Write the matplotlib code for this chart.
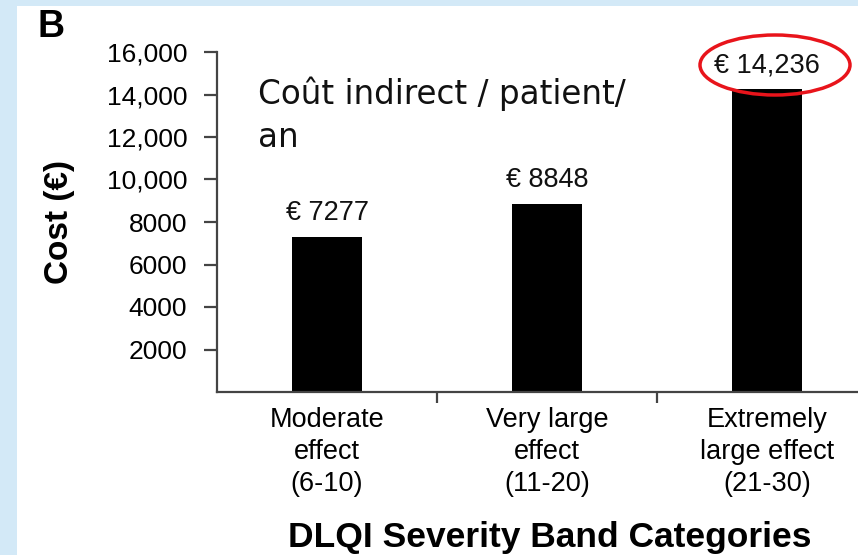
"""Indirect cost per patient per year by DLQI severity band (panel B)."""

import matplotlib.pyplot as plt
from matplotlib.patches import Ellipse, Rectangle
from matplotlib.ticker import FuncFormatter

plt.rcParams["font.family"] = ["Liberation Sans", "DejaVu Sans"]

categories = ["Moderate\neffect\n(6-10)", "Very large\neffect\n(11-20)", "Extremely\nlarge effect\n(21-30)"]
costs = [7277, 8848, 14236]
cost_labels = ["€ 7277", "€ 8848", "€ 14,236"]
y_ticks = [2000, 4000, 6000, 8000, 10000, 12000, 14000, 16000]

W, H = 858, 555
fig = plt.figure(figsize=(W / 100, H / 100), dpi=100)
fig.patch.set_facecolor("#d3e9f7")
panel = Rectangle((17 / W, 0), 1, 1 - 6 / H, transform=fig.transFigure,
                  facecolor="white", edgecolor="none", zorder=-10)
fig.add_artist(panel)

left, right, bottom, top = 217 / W, 877 / W, 1 - 392 / H, 1 - 52 / H
ax = fig.add_axes([left, bottom, right - left, top - bottom])
ax.set_facecolor("none")
ax.set_zorder(1)

x = range(len(costs))
ax.bar(x, costs, width=0.314, color="black", zorder=2)
ax.set_xlim(-0.5, 2.5)
ax.set_ylim(0, 16000)

for xi, val, lab in zip(x, costs, cost_labels):
    ax.annotate(lab, (xi, val), xytext=(0, 8), textcoords="offset points",
                ha="center", va="bottom", fontsize=19.5, color="#111111")

# red ellipse round the top value
ring = Ellipse((775 / W, 1 - 65 / H), 150 / W, 60 / H, transform=fig.transFigure,
               fill=False, edgecolor="#e8141b", linewidth=2.5, zorder=5)
fig.add_artist(ring)

for side in ("top", "right"):
    ax.spines[side].set_visible(False)
for side in ("left", "bottom"):
    ax.spines[side].set_color("#444444")
    ax.spines[side].set_linewidth(1.6)

ax.set_yticks(y_ticks)
ax.yaxis.set_major_formatter(FuncFormatter(lambda v, _: f"{int(v):,}" if v >= 10000 else f"{int(v)}"))
ax.tick_params(axis="y", direction="out", length=9.5, width=1.6, color="#444444",
               labelsize=19, pad=12)

ax.set_xticks([0.5, 1.5], minor=True)
ax.set_xticks(list(x))
ax.set_xticklabels(categories, fontsize=19.5, linespacing=1.32)
ax.tick_params(axis="x", which="major", length=0, pad=10.5)
ax.tick_params(axis="x", which="minor", direction="out", length=8, width=1.6, color="#444444")

ax.set_ylabel("Cost (€)", fontsize=24, fontweight="bold")
ax.yaxis.set_label_coords(-142 / 660, 0.5)
fig.text(550 / W, 1 - 537 / H, "DLQI Severity Band Categories", ha="center", va="center",
         fontsize=25.5, fontweight="bold")
fig.text(38 / W, 1 - 27 / H, "B", ha="left", va="center", fontsize=27, fontweight="bold")
fig.text(258 / W, 1 - 115 / H, "Coût indirect / patient/\nan", ha="left", va="center",
         fontsize=23.5, family=["DejaVu Sans"], linespacing=1.4, color="#111111")

fig.savefig("out.png", dpi=100, facecolor=fig.get_facecolor())
